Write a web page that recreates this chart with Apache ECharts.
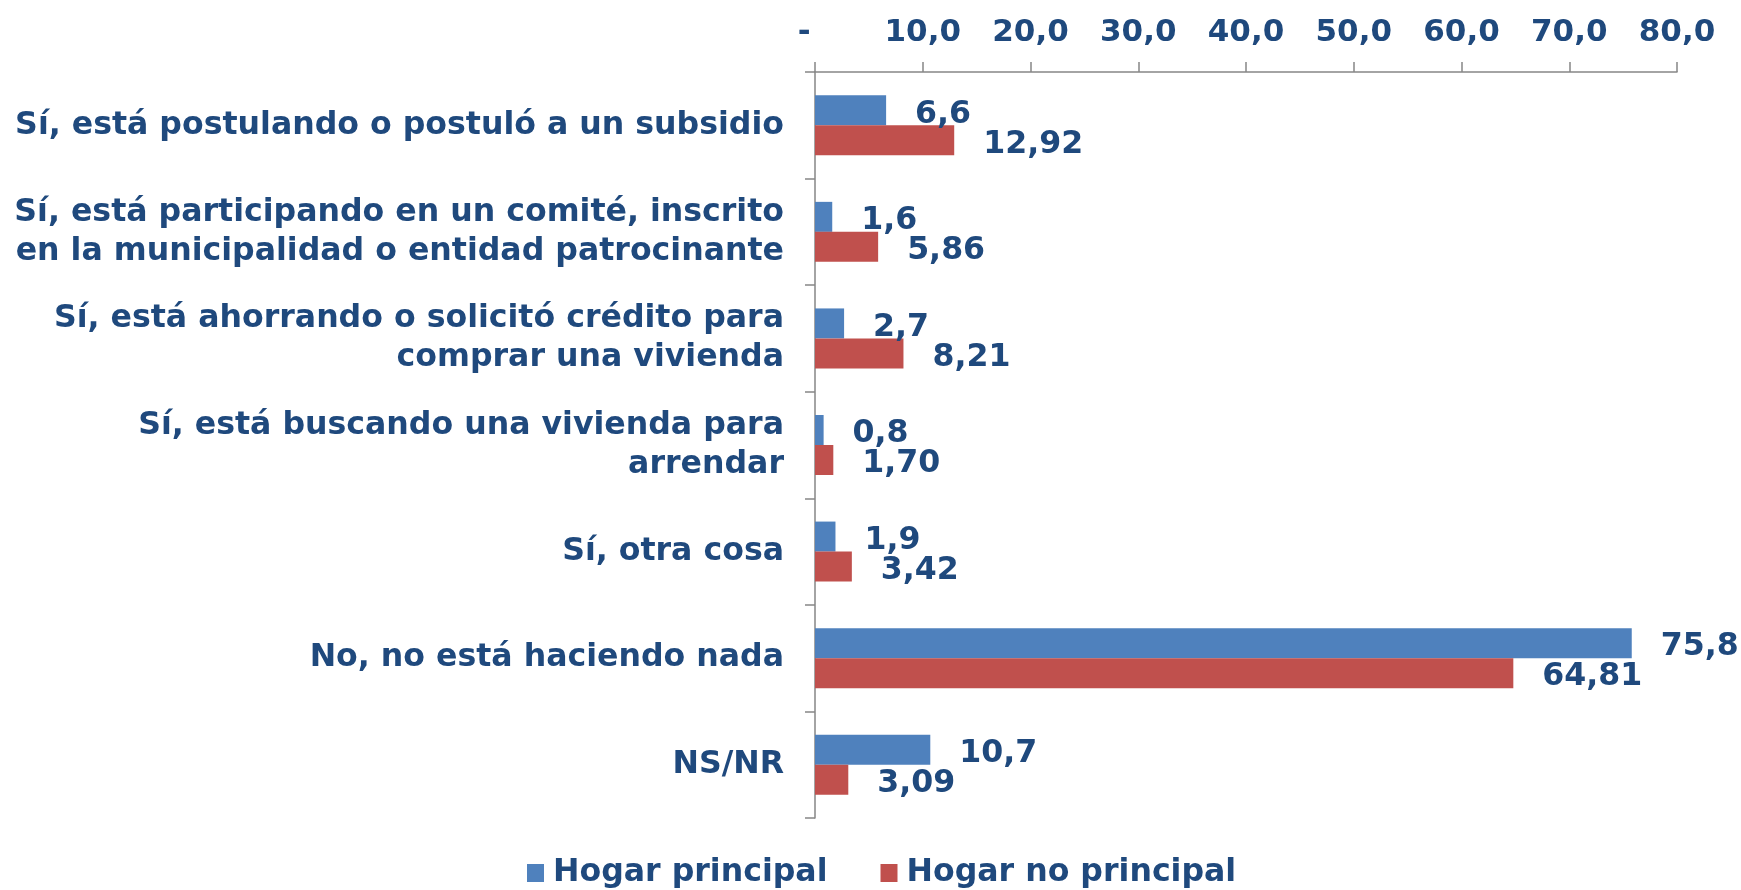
<!DOCTYPE html>
<html>
<head>
<meta charset="utf-8">
<script src="https://cdn.jsdelivr.net/npm/echarts@6/dist/echarts.min.js"></script>
<style>
html,body{margin:0;padding:0;background:#fff;}
#chart{width:1741px;height:890px;}
</style>
</head>
<body>
<div id="chart"></div>
<script>
const categories = [
  "Sí, está postulando o postuló a un subsidio",
  "Sí, está participando en un comité, inscrito\nen la municipalidad o entidad patrocinante",
  "Sí, está ahorrando o solicitó crédito para\ncomprar una vivienda",
  "Sí, está buscando una vivienda para\narrendar",
  "Sí, otra cosa",
  "No, no está haciendo nada",
  "NS/NR"
];
const seriesNames = ["Hogar principal", "Hogar no principal"];
const hogarPrincipal = [6.6, 1.6, 2.7, 0.8, 1.9, 75.8, 10.7];
const hogarNoPrincipal = [12.92, 5.86, 8.21, 1.70, 3.42, 64.81, 3.09];
const xTicks = { min: 0, max: 80, interval: 10 };

const TXT = "#1F497D";
const FONT = "DejaVu Sans";
const FS = 31.6;

function fmt(v, d) { return v.toFixed(d).replace(".", ","); }

const chart = echarts.init(document.getElementById("chart"), null, { renderer: "canvas" });
chart.setOption({
  animation: false,
  backgroundColor: "#ffffff",
  textStyle: { fontFamily: FONT, fontWeight: "bold", color: TXT },
  grid: { left: 815, right: 64, top: 72, bottom: 72, containLabel: false },
  legend: {
    data: seriesNames,
    bottom: -4,
    left: 522,
    itemWidth: 17,
    itemHeight: 18,
    itemGap: 53,
    icon: "rect",
    textStyle: { fontFamily: FONT, fontWeight: "bold", fontSize: FS, color: TXT, padding: [0, 0, 0, 4] }
  },
  xAxis: {
    type: "value",
    position: "top",
    min: xTicks.min, max: xTicks.max, interval: xTicks.interval,
    axisLine: { show: true, lineStyle: { color: "#868686", width: 1.5 } },
    axisTick: { show: true, length: 10, lineStyle: { color: "#868686", width: 1.5 } },
    splitLine: { show: false },
    axisLabel: {
      margin: 24,
      fontFamily: FONT, fontWeight: "bold", fontSize: 31, color: TXT,
      formatter: function (v) { return v === 0 ? "-  " : fmt(v, 1); }
    }
  },
  yAxis: {
    type: "category",
    data: categories,
    inverse: true,
    axisLine: { show: true, lineStyle: { color: "#868686", width: 1.5 } },
    axisTick: { show: true, length: 10, lineStyle: { color: "#868686", width: 1.5 } },
    axisLabel: {
      margin: 31,
      fontFamily: FONT, fontWeight: "bold", fontSize: FS, color: TXT,
      lineHeight: 39, align: "right", padding: [10, 0, 0, 0]
    }
  },
  series: [
    {
      name: seriesNames[0], type: "bar", data: hogarPrincipal,
      barWidth: 30, barGap: "0%",
      itemStyle: { color: "#4F81BD" },
      label: {
        show: true, position: "right", distance: 29, offset: [0, 4],
        fontFamily: FONT, fontWeight: "bold", fontSize: FS, color: TXT,
        formatter: function (p) { return fmt(p.value, 1); }
      }
    },
    {
      name: seriesNames[1], type: "bar", data: hogarNoPrincipal,
      barWidth: 30, barGap: "0%",
      itemStyle: { color: "#C0504D" },
      label: {
        show: true, position: "right", distance: 29, offset: [0, 4],
        fontFamily: FONT, fontWeight: "bold", fontSize: FS, color: TXT,
        formatter: function (p) { return fmt(p.value, 2); }
      }
    }
  ]
});
</script>
</body>
</html>
